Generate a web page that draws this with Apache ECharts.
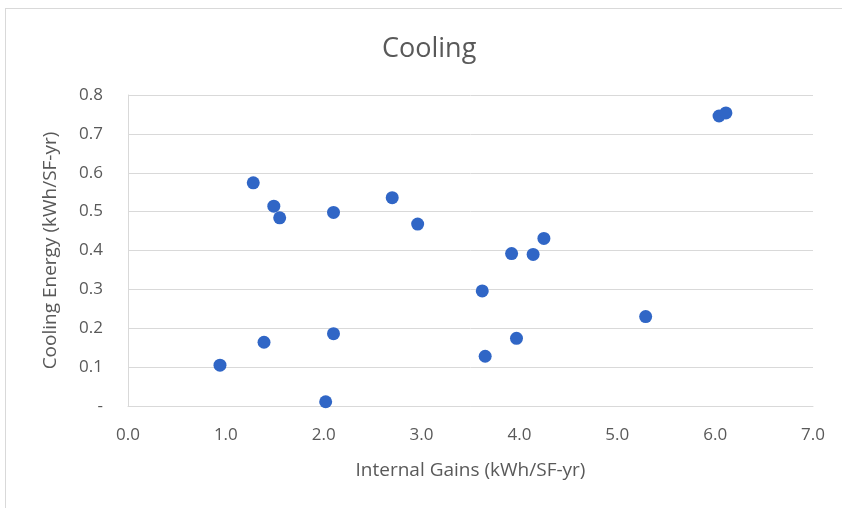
<!DOCTYPE html>
<html>
<head>
<meta charset="utf-8">
<script src="https://cdn.jsdelivr.net/npm/echarts@6/dist/echarts.min.js"></script>
<style>
  html, body { margin: 0; padding: 0; background: #fff; }
  #frame { position: absolute; left: 5px; top: 8px; width: 900px; height: 600px; border: 1px solid #d9d9d9; box-sizing: border-box; }
  #chart { position: absolute; left: 0; top: 0; width: 842px; height: 508px; }
</style>
</head>
<body>
<div id="frame"></div>
<div id="chart"></div>
<script>
// Internal gains vs. cooling energy, one point per building
const internalGains = [1.28, 1.49, 1.55, 2.10, 1.39, 0.94, 2.10, 2.02, 2.70, 2.96, 4.25, 3.92, 4.14, 3.62, 5.29, 3.97, 3.65, 6.04, 6.11];
const coolingEnergy = [0.574, 0.514, 0.484, 0.498, 0.164, 0.105, 0.186, 0.011, 0.536, 0.468, 0.431, 0.392, 0.390, 0.296, 0.230, 0.174, 0.128, 0.746, 0.754];
const xTicks = [0, 1, 2, 3, 4, 5, 6, 7];
const yTicks = [0, 0.1, 0.2, 0.3, 0.4, 0.5, 0.6, 0.7, 0.8];

const points = internalGains.map((x, i) => [x, coolingEnergy[i]]);
const font = '"Open Sans", "Liberation Sans", sans-serif';

const chart = echarts.init(document.getElementById('chart'), null, { renderer: 'canvas' });
chart.setOption({
  animation: false,
  backgroundColor: 'transparent',
  title: {
    text: 'Cooling',
    left: 377, top: 31,
    textStyle: { fontFamily: font, fontSize: 27, fontWeight: 'normal', color: '#595959' }
  },
  grid: { left: 128, right: 29, top: 95, bottom: 102 },
  xAxis: {
    type: 'value',
    min: xTicks[0], max: xTicks[xTicks.length - 1], interval: 1,
    name: 'Internal Gains (kWh/SF-yr)',
    nameLocation: 'middle', nameGap: 55,
    nameTextStyle: { fontFamily: font, fontSize: 19, color: '#595959' },
    axisLine: { show: true, lineStyle: { color: '#d9d9d9', width: 1 } },
    axisTick: { show: false },
    splitLine: { show: false },
    axisLabel: { fontFamily: font, fontSize: 17, color: '#595959', margin: 21, formatter: v => v.toFixed(1) }
  },
  yAxis: {
    type: 'value',
    min: yTicks[0], max: yTicks[yTicks.length - 1], interval: 0.1,
    name: 'Cooling Energy (kWh/SF-yr)',
    nameLocation: 'middle', nameGap: 68, nameRotate: 90,
    nameTextStyle: { fontFamily: font, fontSize: 19, color: '#595959' },
    axisLine: { show: true, lineStyle: { color: '#d9d9d9', width: 1 } },
    axisTick: { show: false },
    splitLine: { show: true, lineStyle: { color: '#d9d9d9', width: 1 } },
    axisLabel: {
      fontFamily: font, fontSize: 17, color: '#595959', margin: 25,
      formatter: v => (Math.abs(v) < 1e-9 ? '-' : v.toFixed(1))
    }
  },
  series: [{
    type: 'scatter',
    data: points,
    symbol: 'circle',
    symbolSize: 13,
    itemStyle: { color: '#3066c6', opacity: 1 }
  }]
});
</script>
</body>
</html>
